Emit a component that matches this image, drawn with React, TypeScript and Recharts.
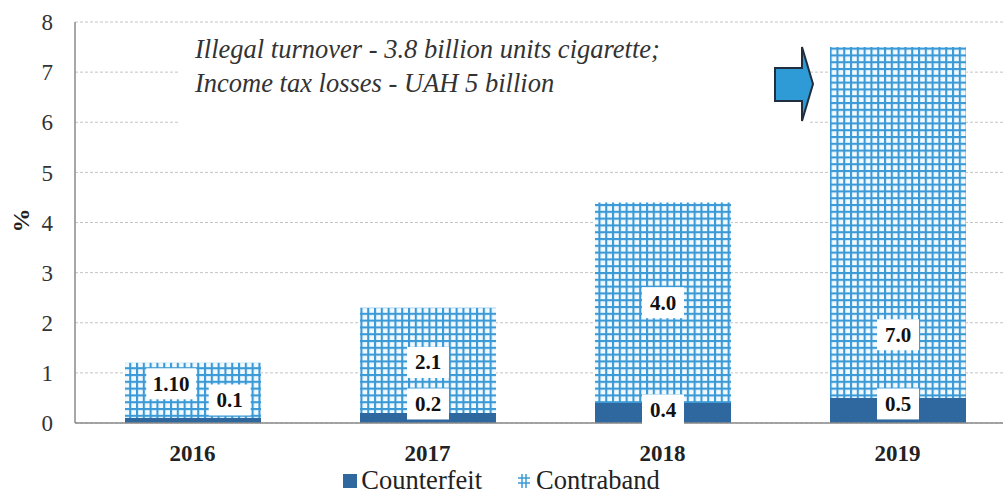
import {
  BarChart,
  Bar,
  XAxis,
  YAxis,
  CartesianGrid,
  Legend,
  LabelList,
  Customized,
} from "recharts";

const years = ["2016", "2017", "2018", "2019"];
const counterfeit = [0.1, 0.2, 0.4, 0.5];
const contraband = [1.1, 2.1, 4.0, 7.0];
const counterfeitLabels = ["0.1", "0.2", "0.4", "0.5"];
const contrabandLabels = ["1.10", "2.1", "4.0", "7.0"];
const yTicks = [0, 1, 2, 3, 4, 5, 6, 7, 8];
const noteLines = [
  "Illegal turnover - 3.8 billion units cigarette;",
  "Income tax losses - UAH 5 billion",
];

const DARK = "#2f689f";
const LIGHT = "#3b9ad6";
const FONT = "'Liberation Serif', 'Times New Roman', serif";

// where each label box sits inside its segment (fraction of width / height, or px offset)
const CONTRA_POS = [
  { fx: 0.34, fy: 0.38 },
  { fx: 0.5, fy: 0.52 },
  { fx: 0.5, fy: 0.5 },
  { fx: 0.5, fy: 0.82 },
];
const COUNTER_POS = [
  { fx: 0.77, dy: -18 },
  { fx: 0.5, dy: -9 },
  { fx: 0.5, dy: 7 },
  { fx: 0.5, dy: 6 },
];

const data = years.map((year, i) => ({
  year,
  counterfeit: counterfeit[i],
  contraband: contraband[i],
  counterfeitLabel: counterfeitLabels[i],
  contrabandLabel: contrabandLabels[i],
}));

const LabelBox = ({ cx, cy, text }: { cx: number; cy: number; text: string }) => {
  const w = text.length * 8 + 18;
  const h = 31;
  return (
    <g>
      <rect x={cx - w / 2} y={cy - h / 2} width={w} height={h} fill="#fff" />
      <text
        x={cx}
        y={cy + 7}
        textAnchor="middle"
        fontFamily={FONT}
        fontWeight="bold"
        fontSize={21}
        fill="#111"
      >
        {text}
      </text>
    </g>
  );
};

const contraLabel = (props: any) => {
  const { x, y, width, height, value } = props;
  const i = contrabandLabels.indexOf(String(value));
  const p = CONTRA_POS[i] || { fx: 0.5, fy: 0.5 };
  return <LabelBox cx={x + width * p.fx} cy={y + height * p.fy} text={String(value)} />;
};

const counterLabel = (props: any) => {
  const { x, y, width, value } = props;
  const i = counterfeitLabels.indexOf(String(value));
  const p = COUNTER_POS[i] || { fx: 0.5, dy: 0 };
  return <LabelBox cx={x + width * p.fx} cy={y + p.dy} text={String(value)} />;
};

// text note in the upper left + block arrow pointing at 2019
const Annotation = () => (
  <g>
    <rect x={180} y={30} width={630} height={98} fill="#fff" />
    {noteLines.map((line, i) => (
      <text
        key={line}
        x={195}
        y={58 + i * 34}
        fontFamily={FONT}
        fontStyle="italic"
        fontSize={26.5}
        fill="#333"
      >
        {line}
      </text>
    ))}
    <path
      d="M775,68 L802,68 L802,47 L813,84 L802,121 L802,101 L775,101 Z"
      fill="#2e9ad6"
      stroke="#1f2f3f"
      strokeWidth={2}
      strokeLinejoin="miter"
    />
  </g>
);

const LegendContent = () => (
  <div
    style={{
      display: "flex",
      justifyContent: "center",
      alignItems: "center",
      gap: 36,
      fontFamily: FONT,
      fontSize: 26.5,
      lineHeight: "28px",
      color: "#222",
      paddingTop: 5,
    }}
  >
    <span style={{ display: "flex", alignItems: "center" }}>
      <svg width={14} height={14} style={{ marginRight: 4, marginTop: 2 }}>
        <rect width={14} height={14} fill={DARK} />
      </svg>
      Counterfeit
    </span>
    <span style={{ display: "flex", alignItems: "center" }}>
      <svg width={12} height={14} style={{ marginRight: 6, marginTop: 2 }}>
        <line x1={0} y1={4} x2={12} y2={4} stroke={LIGHT} strokeWidth={1.5} />
        <line x1={0} y1={9} x2={12} y2={9} stroke={LIGHT} strokeWidth={1.5} />
        <line x1={4} y1={0} x2={4} y2={14} stroke={LIGHT} strokeWidth={1.5} />
        <line x1={8} y1={0} x2={8} y2={14} stroke={LIGHT} strokeWidth={1.5} />
      </svg>
      Contraband
    </span>
  </div>
);

const YLabel = (props: any) => {
  const vb = props.viewBox || { x: 0, y: 22, width: 75, height: 401 };
  const cx = vb.x + 21;
  const cy = vb.y + vb.height / 2 - 2;
  return (
    <text
      x={cx}
      y={cy}
      transform={`rotate(-90 ${cx} ${cy})`}
      textAnchor="middle"
      dominantBaseline="central"
      fontFamily={FONT}
      fontWeight="bold"
      fontSize={24}
      fill="#222"
    >
      %
    </text>
  );
};

const App = () => {
  return (
    <div
      style={{
        position: "absolute",
        left: 0,
        top: 0,
        width: 1003,
        height: 495,
        overflow: "hidden",
        background: "#fff",
        fontFamily: FONT,
      }}
    >
      <BarChart
        width={1015}
        height={495}
        data={data}
        margin={{ top: 22, right: 0, bottom: 0, left: 0 }}
        barSize={136}
      >
        <defs>
          <pattern id="contraGrid" patternUnits="userSpaceOnUse" width={6.8} height={6.8}>
            <rect width={6.8} height={6.8} fill="#f2faff" />
            <line x1={0} y1={1} x2={6.8} y2={1} stroke={LIGHT} strokeWidth={2.2} />
            <line x1={1} y1={0} x2={1} y2={6.8} stroke={LIGHT} strokeWidth={2.2} />
          </pattern>
        </defs>
        <CartesianGrid vertical={false} stroke="#c4c4c4" strokeDasharray="3 2" />
        <Customized component={<Annotation />} />
        <XAxis
          dataKey="year"
          height={38}
          axisLine={{ stroke: "#8a8a8a", strokeWidth: 1.5 }}
          tickLine={false}
          tickMargin={16}
          tick={{ fontFamily: FONT, fontWeight: "bold", fontSize: 23, fill: "#222" }}
        />
        <YAxis
          width={75}
          domain={[0, 8]}
          ticks={yTicks}
          interval={0}
          axisLine={{ stroke: "#8a8a8a", strokeWidth: 1.5 }}
          tickLine={false}
          tickSize={0}
          tickMargin={22}
          tick={{ fontFamily: FONT, fontSize: 23, fill: "#333" }}
          label={<YLabel />}
        />
        <Legend
          verticalAlign="bottom"
          height={34}
          content={<LegendContent />}
          wrapperStyle={{ width: 1003, left: 0 }}
        />
        <Bar dataKey="counterfeit" stackId="a" fill={DARK} isAnimationActive={false}>
          <LabelList dataKey="counterfeitLabel" content={counterLabel} />
        </Bar>
        <Bar dataKey="contraband" stackId="a" fill="url(#contraGrid)" isAnimationActive={false}>
          <LabelList dataKey="contrabandLabel" content={contraLabel} />
        </Bar>
      </BarChart>
    </div>
  );
};

export default App;
